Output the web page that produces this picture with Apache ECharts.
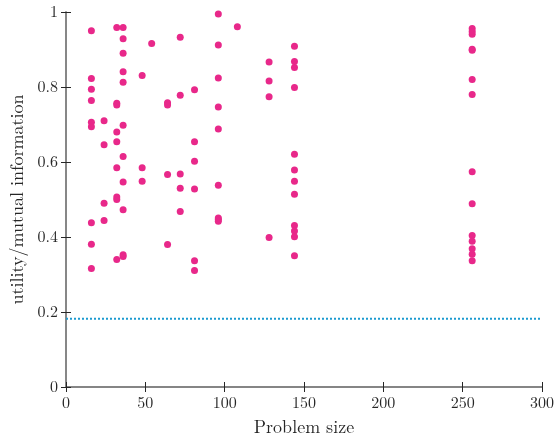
<!DOCTYPE html>
<html><head><meta charset="utf-8">
<script src="https://cdn.jsdelivr.net/npm/echarts@6/dist/echarts.min.js"></script>
<style>html,body{margin:0;padding:0;background:#fff}#c{width:558px;height:443px}</style>
</head><body><div id="c"></div>
<script>
const sizes16 = [0.950,0.823,0.794,0.764,0.706,0.694,0.438,0.381,0.316];
const sizes24 = [0.710,0.646,0.490,0.444];
const sizes32 = [0.959,0.757,0.752,0.680,0.654,0.585,0.507,0.500,0.340];
const sizes36 = [0.959,0.929,0.890,0.841,0.813,0.698,0.615,0.547,0.473,0.353,0.348];
const sizes48 = [0.831,0.585,0.549];
const sizes54 = [0.916];
const sizes64 = [0.758,0.752,0.567,0.380];
const sizes72 = [0.933,0.778,0.568,0.530,0.468];
const sizes81 = [0.793,0.654,0.602,0.528,0.337,0.311];
const sizes96 = [0.995,0.912,0.824,0.747,0.688,0.538,0.451,0.447,0.442];
const sizes108 = [0.961];
const sizes128 = [0.867,0.816,0.774,0.399];
const sizes144 = [0.909,0.868,0.852,0.799,0.621,0.579,0.549,0.514,0.431,0.416,0.401,0.350];
const sizes256 = [0.956,0.948,0.941,0.901,0.898,0.820,0.780,0.574,0.489,0.404,0.389,0.369,0.354,0.337];
const problemSizes = [16,24,32,36,48,54,64,72,81,96,108,128,144,256];
const groups = [sizes16,sizes24,sizes32,sizes36,sizes48,sizes54,sizes64,sizes72,sizes81,sizes96,sizes108,sizes128,sizes144,sizes256];
const baselineX = [0,300];
const baselineY = [0.182,0.182];

const pts = [];
problemSizes.forEach((s,i)=>groups[i].forEach(v=>pts.push([s,v])));

const font = "'Latin Modern Roman','CMU Serif','Liberation Serif',serif";
const chart = echarts.init(document.getElementById('c'));
const axisLine = {show:true,lineStyle:{color:'#7f7f7f',width:1.5}};
const tick = {show:true,inside:true,length:5,lineStyle:{color:'#262626',width:1}};
chart.setOption({
  animation:false,
  grid:{left:66,right:16,top:12,bottom:56},
  xAxis:[{type:'value',min:0,max:300,interval:50,position:'bottom',
    axisLine:axisLine,axisTick:tick,splitLine:{show:false},
    axisLabel:{color:'#262626',fontFamily:font,fontSize:16,margin:8},
    name:'Problem size',nameLocation:'middle',nameGap:31,
    nameTextStyle:{color:'#262626',fontFamily:font,fontSize:18}},
   {type:'value',min:0,max:300,interval:50,position:'top',
    axisLine:axisLine,axisTick:tick,splitLine:{show:false},axisLabel:{show:false}}],
  yAxis:[{type:'value',min:0,max:1,interval:0.2,position:'left',
    axisLine:axisLine,axisTick:tick,splitLine:{show:false},
    axisLabel:{color:'#262626',fontFamily:font,fontSize:16,margin:8,
      formatter:v=>v===0?'0':v===1?'1':String(+v.toFixed(1))},
    name:'utility/mutual information',nameLocation:'middle',nameGap:38,
    nameTextStyle:{color:'#262626',fontFamily:font,fontSize:18}},
   {type:'value',min:0,max:1,interval:0.2,position:'right',
    axisLine:axisLine,axisTick:tick,splitLine:{show:false},axisLabel:{show:false}}],
  series:[
    {type:'line',data:baselineX.map((x,i)=>[x,baselineY[i]]),symbol:'none',
     lineStyle:{color:'#1c9ad0',width:2,type:[2,2]},z:1},
    {type:'scatter',data:pts,symbol:'circle',symbolSize:7,
     itemStyle:{color:'#e8288a',opacity:1},z:3}
  ]
});
</script></body></html>
